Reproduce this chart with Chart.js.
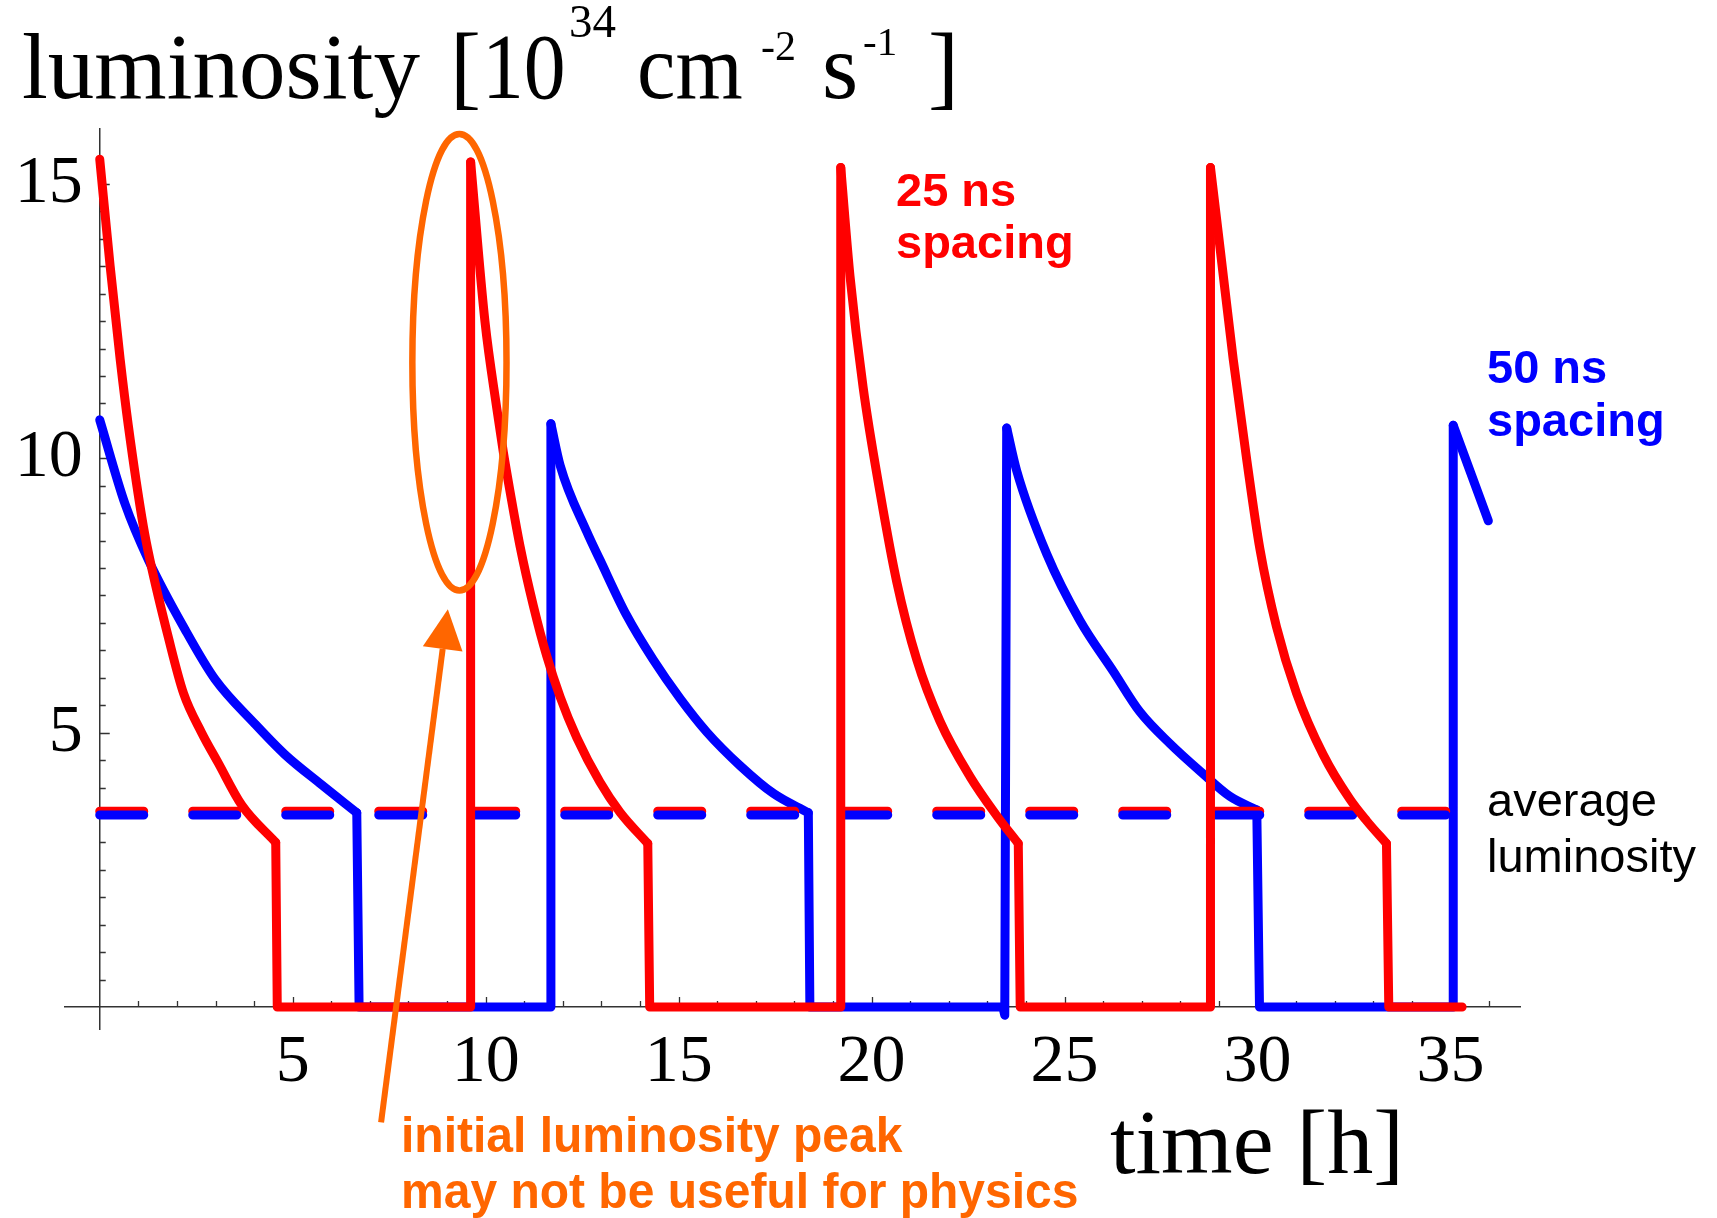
<!DOCTYPE html>
<html lang="en">
<head>
<meta charset="UTF-8">
<title>Luminosity vs time, 25 ns and 50 ns spacing</title>
<style>
  html, body { margin: 0; padding: 0; background: #ffffff; }
  canvas { display: block; }
</style>
<script src="https://cdn.jsdelivr.net/npm/chart.js"></script>
</head>
<body>
<canvas id="lumiChart" width="1717" height="1218"></canvas>
<script>
// 25 ns spacing (red): time [h] and luminosity [1e34 cm^-2 s^-1]
const time25 = [0, 0.27, 0.53, 0.74, 1.13, 1.30, 1.78, 2.17, 2.64, 3.07, 3.68, 4.56, 4.60,
                9.61, 9.61, 9.98, 10.29, 10.46, 10.63, 10.89, 11.24, 11.58, 11.93, 12.36, 12.96, 13.48, 14.20, 14.25,
                19.20, 19.20, 19.44, 19.78, 20.22, 20.65, 21.17, 21.77, 22.55, 23.24, 23.80, 23.85,
                28.78, 28.78, 29.03, 29.37, 29.72, 30.06, 30.49, 31.01, 31.70, 32.39, 32.83, 33.34, 33.40,
                35.30];
const lumi25 = [15.45, 13.50, 11.80, 10.60, 8.76, 8.15, 6.73, 5.72, 5.00, 4.45, 3.68, 3.00, 0,
                0, 15.40, 12.50, 10.90, 10.10, 9.40, 8.40, 7.30, 6.40, 5.65, 4.91, 4.10, 3.55, 2.98, 0,
                0, 15.30, 13.32, 11.29, 9.37, 7.75, 6.33, 5.21, 4.20, 3.49, 2.98, 0,
                0, 15.30, 13.82, 11.80, 9.97, 8.35, 6.93, 5.72, 4.60, 3.79, 3.39, 2.98, 0,
                0];

// 50 ns spacing (blue)
const time50 = [0, 0.66, 1.26, 2.21, 2.99, 4.02, 4.80, 5.75, 6.66, 6.72,
                11.69, 11.69, 11.93, 12.62, 12.96, 13.65, 14.34, 15.04, 15.73, 16.59, 17.46, 18.36, 18.40,
                23.40, 23.45, 23.50, 23.76, 24.54, 25.40, 26.26, 26.95, 27.73, 28.59, 29.28, 29.98, 30.05,
                35.07, 35.07, 35.98];
const lumi50 = [10.70, 9.16, 8.15, 6.88, 5.97, 5.16, 4.60, 4.05, 3.54, 0,
                0, 10.63, 9.87, 8.66, 8.15, 7.14, 6.33, 5.62, 5.01, 4.40, 3.89, 3.54, 0,
                0, -0.15, 10.55, 9.77, 8.25, 7.04, 6.12, 5.38, 4.80, 4.25, 3.84, 3.59, 0,
                0, 10.60, 8.86];

// average luminosity (dashed)
const avgTime = [0, 35.25];
const avg25 = [3.57, 3.57];
const avg50 = [3.50, 3.50];

const xTickValues = [5, 10, 15, 20, 25, 30, 35];
const xTickLabels = ['5', '10', '15', '20', '25', '30', '35'];
const yTickValues = [5, 10, 15];
const yTickLabels = ['5', '10', '15'];

const RED = '#ff0000';
const BLUE = '#0000ff';
const ORANGE = '#ff6600';
const SERIF = '"Liberation Serif", "Times New Roman", serif';
const SANS = '"Liberation Sans", Arial, sans-serif';

function toPoints(xs, ys) {
    return xs.map((x, i) => ({ x: x, y: ys[i] }));
}

// split a series into the decay stretches (drawn smooth) and the jumps / zero levels (drawn straight)
function splitRuns(xs, ys) {
    const smooth = [], steps = [];
    for (let i = 0; i < xs.length - 1; i++) {
        const a = { x: xs[i], y: ys[i] }, b = { x: xs[i + 1], y: ys[i + 1] };
        const isStep = (b.x - a.x) < 0.1 || (a.y <= 0 && b.y <= 0);
        const target = isStep ? steps : smooth;
        const last = target[target.length - 1];
        if (!last || last.x !== a.x || last.y !== a.y) {
            if (last) target.push({ x: a.x, y: null });
            target.push(a);
        }
        target.push(b);
    }
    return { smooth, steps };
}

// text with optional stretch around the baseline start
function text(ctx, str, x, y, font, color, sy, sx) {
    ctx.save();
    ctx.font = font;
    ctx.fillStyle = color;
    ctx.textAlign = 'left';
    ctx.textBaseline = 'alphabetic';
    ctx.translate(x, y);
    ctx.scale(sx || 1, sy || 1);
    ctx.fillText(str, 0, 0);
    ctx.restore();
}

// inward Mathematica-style tick marks
const tickMarks = {
    id: 'tickMarks',
    beforeDatasetsDraw(chart) {
        const { ctx, scales: { x, y } } = chart;
        const x0 = x.getPixelForValue(0);
        const y0 = y.getPixelForValue(0);
        ctx.save();
        ctx.strokeStyle = '#333';
        ctx.lineWidth = 1.3;
        ctx.beginPath();
        for (let v = 1; v <= 36; v++) {
            const px = Math.round(x.getPixelForValue(v)) + 0.5;
            const len = v % 5 === 0 ? 10 : 6;
            ctx.moveTo(px, y0);
            ctx.lineTo(px, y0 - len);
        }
        for (let k = 1; k <= 30; k++) {
            const py = Math.round(y.getPixelForValue(k / 2)) + 0.5;
            const len = k % 10 === 0 ? 10 : 6;
            ctx.moveTo(x0, py);
            ctx.lineTo(x0 + len, py);
        }
        ctx.stroke();
        ctx.restore();
    }
};

// titles, labels, ellipse and arrow
const annotations = {
    id: 'annotations',
    afterDatasetsDraw(chart) {
        const { ctx, scales: { x, y } } = chart;
        ctx.save();

        // axis titles
        const big = '93px ' + SERIF;
        text(ctx, 'luminosity', 22, 98, big, '#000');
        text(ctx, '[', 450, 98, big, '#000');
        text(ctx, '10', 482, 98, big, '#000', 1, 0.9);
        text(ctx, '34', 569, 37, '47px ' + SERIF, '#000');
        text(ctx, 'cm', 637, 98, big, '#000', 1, 0.93);
        text(ctx, '-2', 761, 60, '42px ' + SERIF, '#000');
        text(ctx, 's', 822, 98, big, '#000');
        text(ctx, '-1', 863, 55, '41px ' + SERIF, '#000');
        text(ctx, ']', 928, 98, big, '#000');
        text(ctx, 'time [h]', 1110, 1173, '92px ' + SERIF, '#000');

        // series labels
        const bold = 'bold 47px ' + SANS;
        text(ctx, '25 ns', 896, 206, bold, RED);
        text(ctx, 'spacing', 896, 258, bold, RED);
        text(ctx, '50 ns', 1487, 383, bold, BLUE);
        text(ctx, 'spacing', 1487, 436, bold, BLUE);
        text(ctx, 'average', 1487, 816, '47px ' + SANS, '#000');
        text(ctx, 'luminosity', 1487, 872, '47px ' + SANS, '#000');

        // highlight of the first peak
        const cx = x.getPixelForValue(9.32), cy = y.getPixelForValue(11.75);
        const rx = x.getPixelForValue(9.32 + 1.22) - cx;
        const ry = cy - y.getPixelForValue(11.75 + 4.16);
        ctx.strokeStyle = ORANGE;
        ctx.lineWidth = 6.5;
        ctx.beginPath();
        ctx.ellipse(cx, cy, rx, ry, 0, 0, Math.PI * 2);
        ctx.stroke();

        // arrow
        const sx = x.getPixelForValue(7.29), sy = y.getPixelForValue(-2.1);
        const tx = x.getPixelForValue(9.02), ty = y.getPixelForValue(7.25);
        const ang = Math.atan2(ty - sy, tx - sx);
        const headLen = 40, headHalf = 20;
        const bx = tx - Math.cos(ang) * headLen, by = ty - Math.sin(ang) * headLen;
        ctx.lineWidth = 6;
        ctx.beginPath();
        ctx.moveTo(sx, sy);
        ctx.lineTo(bx, by);
        ctx.stroke();
        ctx.fillStyle = ORANGE;
        ctx.beginPath();
        ctx.moveTo(tx, ty);
        ctx.lineTo(bx + Math.sin(ang) * headHalf, by - Math.cos(ang) * headHalf);
        ctx.lineTo(bx - Math.sin(ang) * headHalf, by + Math.cos(ang) * headHalf);
        ctx.closePath();
        ctx.fill();

        const orange = 'bold 48px ' + SANS;
        text(ctx, 'initial luminosity peak', 401, 1152, orange, ORANGE, 1.05);
        text(ctx, 'may not be useful for physics', 401, 1208, orange, ORANGE, 1.05);

        ctx.restore();
    }
};

const run25 = splitRuns(time25, lumi25);
const run50 = splitRuns(time50, lumi50);

const smoothStyle = { pointRadius: 0, borderWidth: 9, fill: false, cubicInterpolationMode: 'monotone',
                      borderJoinStyle: 'round', borderCapStyle: 'round' };
const stepStyle = { pointRadius: 0, borderWidth: 9, fill: false, tension: 0,
                    borderJoinStyle: 'round', borderCapStyle: 'round' };
const dashStyle = { pointRadius: 0, borderWidth: 9, fill: false, tension: 0,
                    borderCapStyle: 'round', borderDash: [44, 49] };

new Chart(document.getElementById('lumiChart'), {
    type: 'line',
    data: {
        datasets: [
            Object.assign({ label: '25 ns spacing', data: run25.smooth, borderColor: RED, order: 0 }, smoothStyle),
            Object.assign({ label: '25 ns spacing (fills)', data: run25.steps, borderColor: RED, order: 0 }, stepStyle),
            Object.assign({ label: '50 ns average', data: toPoints(avgTime, avg50), borderColor: BLUE, order: 1 }, dashStyle),
            Object.assign({ label: '25 ns average', data: toPoints(avgTime, avg25), borderColor: RED, order: 2 }, dashStyle),
            Object.assign({ label: '50 ns spacing', data: run50.smooth, borderColor: BLUE, order: 3 }, smoothStyle),
            Object.assign({ label: '50 ns spacing (fills)', data: run50.steps, borderColor: BLUE, order: 3 }, stepStyle)
        ]
    },
    options: {
        responsive: false,
        animation: false,
        layout: { padding: { left: 65, right: 197, top: 129, bottom: 189 } },
        plugins: {
            legend: { display: false },
            title: { display: false },
            tooltip: { enabled: false }
        },
        scales: {
            x: {
                type: 'linear',
                min: -0.9,
                max: 36.8,
                position: { y: 0 },
                grid: { display: false, drawTicks: false },
                border: { display: true, color: '#333', width: 1.5 },
                afterBuildTicks: axis => { axis.ticks = xTickValues.map(v => ({ value: v })); },
                ticks: {
                    autoSkip: false,
                    maxRotation: 0,
                    padding: 15,
                    color: '#000',
                    font: { family: SERIF, size: 68 },
                    callback: v => xTickLabels[xTickValues.indexOf(v)]
                }
            },
            y: {
                type: 'linear',
                min: -0.4,
                max: 16,
                position: { x: 0 },
                grid: { display: false, drawTicks: false },
                border: { display: true, color: '#333', width: 1.5 },
                afterBuildTicks: axis => { axis.ticks = yTickValues.map(v => ({ value: v })); },
                ticks: {
                    autoSkip: false,
                    color: '#000',
                    font: { family: SERIF, size: 68 },
                    // labels of a value-positioned axis sit right on the axis line: pad with a space
                    callback: v => yTickLabels[yTickValues.indexOf(v)] + ' '
                }
            }
        }
    },
    plugins: [tickMarks, annotations]
});
</script>
</body>
</html>
